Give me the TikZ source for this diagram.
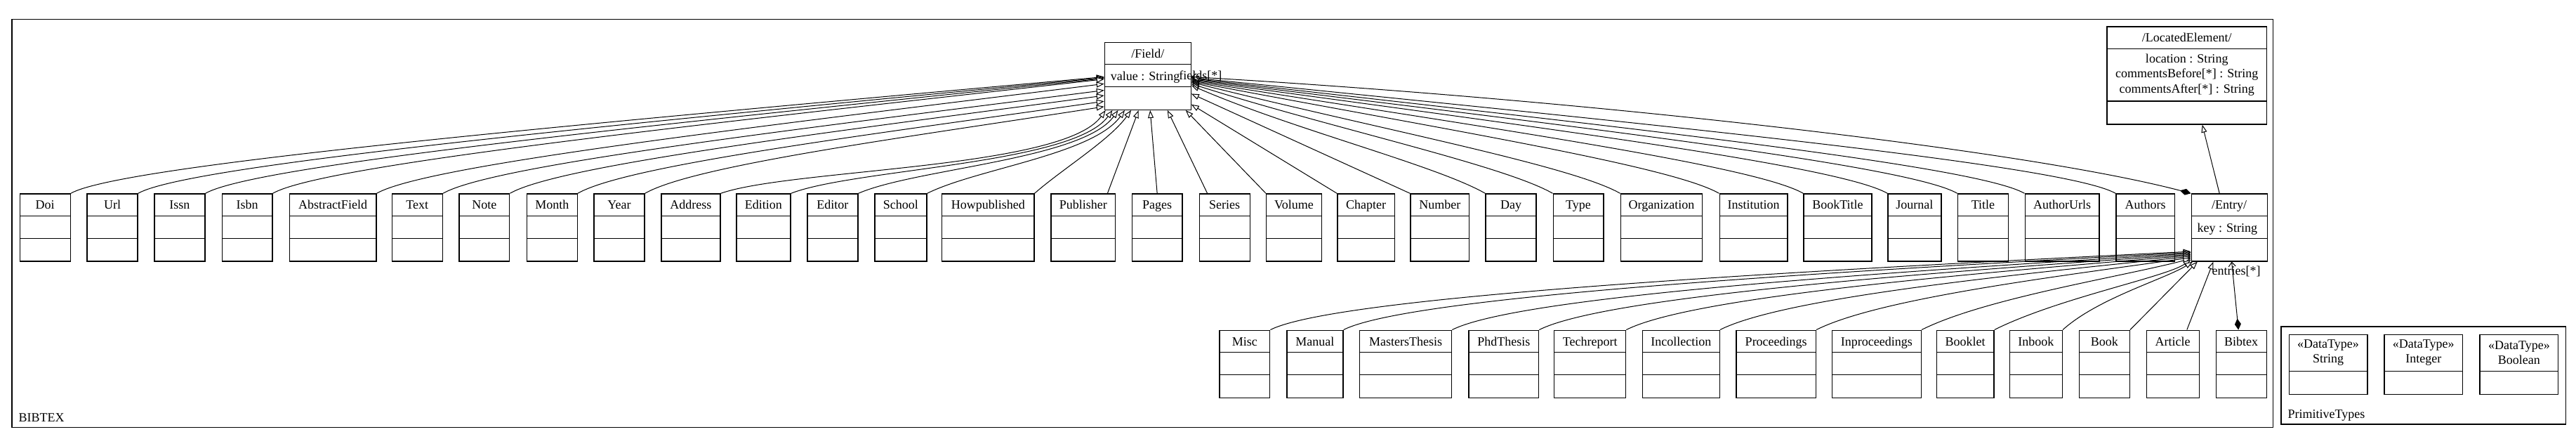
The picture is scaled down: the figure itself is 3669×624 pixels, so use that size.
\documentclass[tikz,border=0pt]{standalone}
\usepackage{fontspec}
\setmainfont{Liberation Serif}
\usetikzlibrary{calc, positioning, arrows.meta}
\newcommand{\umlfont}{\fontsize{18}{21.6}\selectfont}
\tikzstyle{classbox}=[draw, line width=1.3pt, inner sep=0pt, minimum height=96pt, anchor=north west]
\tikzstyle{rowtext}=[font=\umlfont, inner sep=0pt, text height=13pt, text depth=0pt]
\tikzstyle{package}=[draw, line width=1.3pt, inner sep=0pt, anchor=north west]
\tikzstyle{gen}=[draw, line width=1pt, -{Triangle[length=11pt, width=8pt, fill=white]}]
\tikzstyle{comp}=[draw, line width=1pt, {Diamond[length=16pt, width=9pt]}-{Straight Barb[length=6pt, width=10pt]}]
\newcommand{\umlclass}[5]{%
  \node[classbox, minimum width=#5pt] (#1) at (#3,#4) {};
  \node[rowtext] (#1-name) at ($(#1.north)+(0,16)$) {#2};
  \draw[line width=1.3pt] ($(#1.north west)+(0,32)$) -- ($(#1.north east)+(0,32)$)
    ($(#1.north west)+(0,64)$) -- ($(#1.north east)+(0,64)$);
}
\newcommand{\umldatatype}[3]{%
  \node[classbox, minimum width=111.8pt, minimum height=85pt] (#1) at (#3,475.5) {};
  \node[font=\umlfont, align=center, inner sep=0pt] (#1-name) at ($(#1.north)+(0,26.5)$) {«DataType»\\#2};
  \draw[line width=1.3pt] ($(#1.north west)+(0,53)$) -- ($(#1.north east)+(0,53)$);
}

\begin{document}
\begin{tikzpicture}[x=1pt, y=-1pt]
  \useasboundingbox (0,0) rectangle (3669,624);
  \node[package, minimum width=3220.7pt, minimum height=581pt] (bibtex-pkg) at (16.3,27) {};
  \node[rowtext, anchor=west] (bibtex-label) at ($(bibtex-pkg.south west)+(10,-15)$) {BIBTEX};
  \node[package, minimum width=405.2pt, minimum height=138.9pt] (primitive-pkg) at (3248.3,464.4) {};
  \node[rowtext, anchor=west] (primitive-label) at ($(primitive-pkg.south west)+(10,-16)$) {PrimitiveTypes};

  \umlclass{Field}{/Field/}{1572.7}{59.7}{122.8}
  \node[rowtext, anchor=west] (Field-value) at ($(Field.west)+(9,0)$) {value : String};
  \umlclass{Entry}{/Entry/}{3120.5}{275.3}{108}
  \node[rowtext, anchor=west] (Entry-key) at ($(Entry.west)+(9,0)$) {key : String};

  \node[classbox, minimum width=227.3pt, minimum height=138.9pt] (LocatedElement) at (3000.4,37.4) {};
  \node[rowtext] (LocatedElement-name) at ($(LocatedElement.north)+(0,16)$) {/LocatedElement/};
  \node[font=\umlfont, align=center, inner sep=0pt] (LocatedElement-attrs) at ($(LocatedElement.north)+(0,69.2)$)
    {location : String\\commentsBefore[*] : String\\commentsAfter[*] : String};
  \draw[line width=1.3pt] ($(LocatedElement.north west)+(0,31.8)$) -- ($(LocatedElement.north east)+(0,31.8)$)
    ($(LocatedElement.north west)+(0,106.6)$) -- ($(LocatedElement.north east)+(0,106.6)$);

  \umldatatype{String}{String}{3259.5}
  \umldatatype{Integer}{Integer}{3395.2}
  \umldatatype{Boolean}{Boolean}{3531.3}

  \foreach \n/\x/\w in {Doi/27.5/72, Url/123.4/72, Issn/219.3/72, Isbn/315.6/71.6, AbstractField/411.5/123.7,
      Text/557.5/72.2, Note/653.3/71.7, Month/749.7/71.8, Year/845.3/72, Address/941.3/84, Edition/1048.3/77,
      Editor/1149.3/72, School/1245.3/74, Howpublished/1341/131.2, Publisher/1496.4/91.7, Pages/1611.6/71.8,
      Series/1707.6/71.9, Volume/1803/78.5, Chapter/1904.2/81.4, Number/2008.3/83.7, Day/2115.4/71.9,
      Type/2211.5/71.8, Organization/2307.6/116.4, Institution/2448.5/96.9, BookTitle/2568.4/96.9,
      Journal/2688.3/76, Title/2787.8/71.9, AuthorUrls/2883.5/105.9, Authors/3013.2/83.3}
    \umlclass{\n}{\n}{\x}{275.3}{\w};

  \foreach \n/\x/\w in {Misc/1736.2/71.9, Manual/1832.3/80, MastersThesis/1935.7/131.3, PhdThesis/2091.2/99.8,
      Techreport/2213/102, Incollection/2339/109.5, Proceedings/2472.4/113.3, Inproceedings/2608.7/127,
      Booklet/2757.7/81.6, Inbook/2861.6/75.1, Book/2960.7/71.9, Article/3056.5/75, Bibtex/3155.5/72}
    \umlclass{\n}{\n}{\x}{469.5}{\w};

  % generalizations to Field
  \foreach \n/\a in {Doi/181, Url/182, Issn/183, Isbn/184, AbstractField/190, Text/198, Note/204, Month/210, Year/215}
    \draw[gen] (\n.north east) .. controls +(70,-40) and ($(Field.\a)!0.6!(\n.north east)+(108,-30)$) .. (Field.\a);
  \foreach \n/\a/\c/\d in {Address/219/100/60, Edition/224/90/55, Editor/229/80/50, School/236/70/45, Howpublished/244/40/30}
    \draw[gen] (\n.north east) .. controls +(\c,-35) and +(-\d,1.4*\d) .. (Field.\a);
  \draw[gen] ([xshift=-12pt]Publisher.north east) -- (Field.255);
  \draw[gen] (Pages.north) -- (Field.274);
  \draw[gen] ([xshift=12pt]Series.north west) -- (Field.300);
  \draw[gen] (Volume.north west) -- (Field.318);
  \draw[gen] (Chapter.north west) -- (Field.327);
  \draw[gen] (Number.north west) -- (Field.338);
  \foreach \n/\a in {Day/348, Type/350, Organization/352, Institution/353, BookTitle/354, Journal/355, Title/356, AuthorUrls/357, Authors/358}
    \draw[gen] (\n.north west) .. controls +(-70,-40) and ($(Field.\a)!0.6!(\n.north west)+(-108,-30)$) .. (Field.\a);

  % generalizations to Entry
  \foreach \n/\a in {Misc/212, Manual/213, MastersThesis/214, PhdThesis/215, Techreport/216, Incollection/217,
      Proceedings/218, Inproceedings/219, Booklet/220}
    \draw[gen] (\n.north east) .. controls +(90,-45) and ($(Entry.\a)!0.6!(\n.north east)+(132,-35)$) .. (Entry.\a);
  \draw[gen] (Inbook.north east) .. controls +(50,-45) and +(-40,25) .. (Entry.223);
  \draw[gen] (Book.north east) -- (Entry.227);
  \draw[gen] ([xshift=-18pt]Article.north east) -- (Entry.245);
  \draw[gen] ([xshift=-14pt]Entry.north) -- ([xshift=22pt]LocatedElement.south);

  \draw[comp] ([xshift=-4pt]Bibtex.north) -- (Entry.274);
  \node[rowtext] (entries-label) at ($(Entry.south)+(10,12)$) {entries[*]};
  \draw[comp] (Entry.north west) .. controls +(-240,-63) and +(555,32) .. (Field.359);
  \node[rowtext] (fields-label) at ($(Field.east)+(13,-1)$) {fields[*]};
\end{tikzpicture}
\end{document}
